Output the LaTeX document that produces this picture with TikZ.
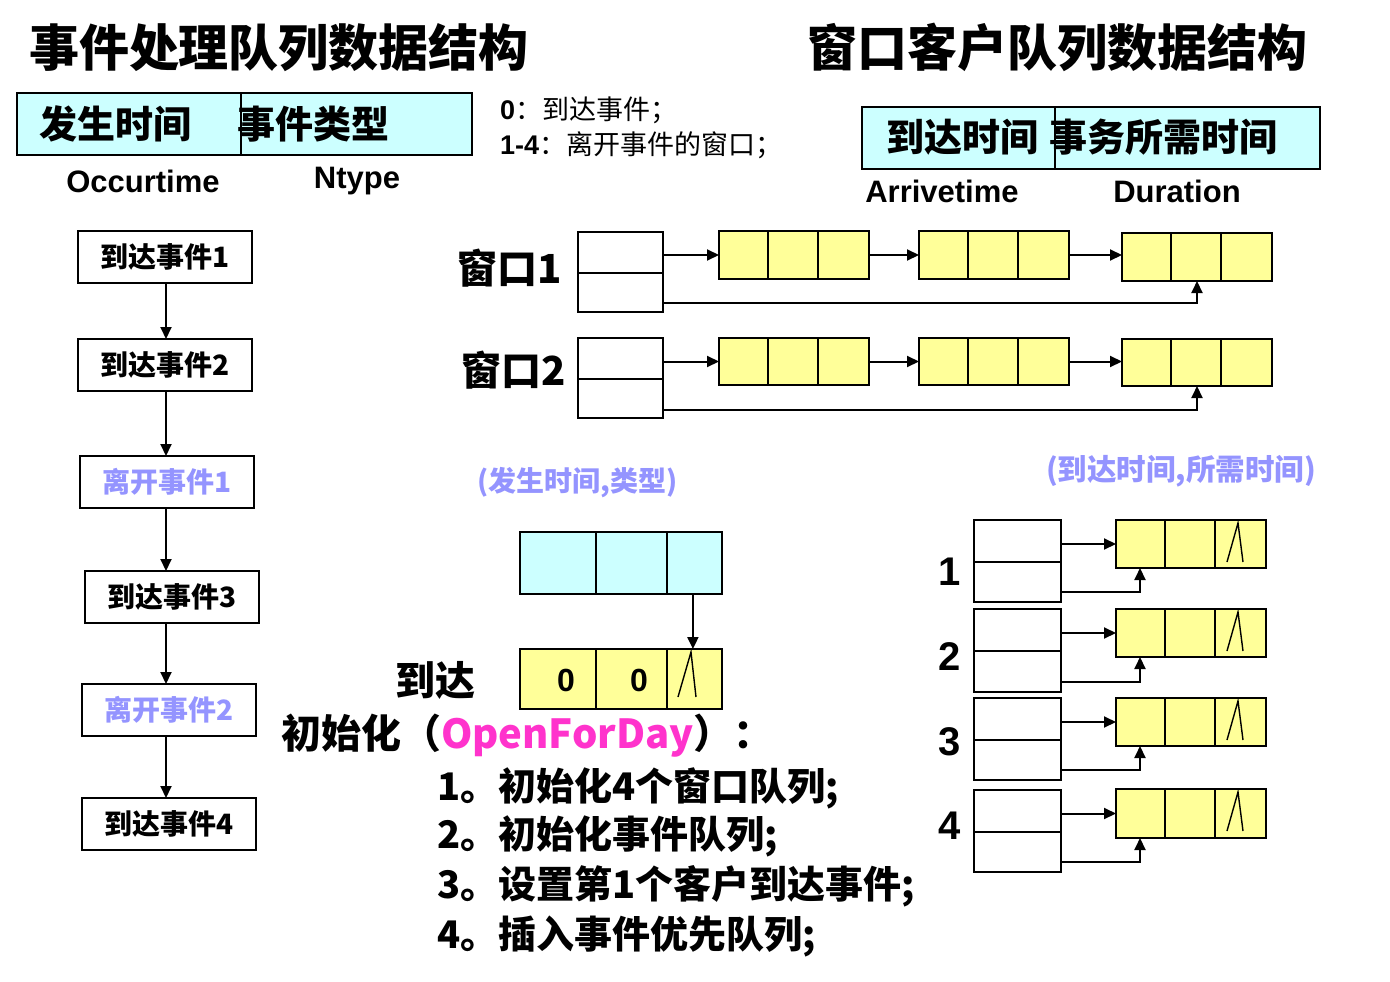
\documentclass[tikz,border=0pt]{standalone}
\usepackage{fontspec}
\setmainfont{Liberation Sans}
\newfontfamily\cjk{Noto Sans CJK SC}
\usetikzlibrary{arrows.meta,calc}
\definecolor{cyanfill}{HTML}{CCFFFF}
\definecolor{yelfill}{HTML}{FFFF99}
\definecolor{lblue}{HTML}{9494FF}
\definecolor{mag}{HTML}{FF33CC}
\newcommand\fsz[1]{\fontsize{#1}{#1}\selectfont}
% style, name, x1, y1, x2, y2, text
\newcommand\cellbox[7]{\node[#1, minimum width={(#5-#3)*1pt}, minimum height={(#6-#4)*1pt}] (#2) at ({(#3+#5)/2},{(#4+#6)/2}) {#7};}
\newcommand\vdiv[2]{\draw[ln] ($(#1.north west)!#2!(#1.north east)$) -- ($(#1.south west)!#2!(#1.south east)$);}
\newcommand\hdiv[2]{\draw[ln] ($(#1.north west)!#2!(#1.south west)$) -- ($(#1.north east)!#2!(#1.south east)$);}
\newcommand\lam[4]{\draw[lamb] ($(#1.north east)+(#2,#4)$) -- ($(#1.north east)+(#3,3)$) -- ($(#1.north east)+(#3+5,#4)$);}
\begin{document}
\begin{tikzpicture}[x=1pt,y=-1pt,
  box/.style={draw, line width=2pt, inner sep=0pt, outer sep=0pt},
  ln/.style={line width=2pt},
  lamb/.style={line width=1.4pt},
  arr/.style={line width=2pt, -{Triangle[length=12pt,width=11pt]}},
  txt/.style={inner sep=0pt, outer sep=0pt, anchor=west},
  ctxt/.style={inner sep=0pt, outer sep=0pt},
  evt/.style={box, font=\cjk\bfseries\fsz{28}},
  cy/.style={box, fill=cyanfill},
  yl/.style={box, fill=yelfill},
  wt/.style={box, fill=white}]
\useasboundingbox (0,0) rectangle (1390,982);
\fill[white] (0,0) rectangle (1390,982);

% titles
\node[txt, font=\cjk\bfseries\fsz{50}] (t1) at (29,48) {事件处理队列数据结构};
\node[txt, font=\cjk\bfseries\fsz{50}] (t2) at (807,47) {窗口客户队列数据结构};

% event node structure
\cellbox{cy}{eb}{17}{93}{472}{155}{}
\vdiv{eb}{0.492}
\node[txt, font=\cjk\bfseries\fsz{38}] (eb1) at (39,124) {发生时间};
\node[txt, font=\cjk\bfseries\fsz{38}] (eb2) at (237,124) {事件类型};
\node[ctxt, font=\bfseries\fsz{31}] (occ) at (143,181) {Occurtime};
\node[ctxt, font=\bfseries\fsz{31}] (nty) at (357,181) {Ntype};

% legend
\node[txt, font=\fsz{27}] (lg1) at (500,110) {\textbf{0}{\cjk ：到达事件；}};
\node[txt, font=\fsz{27}] (lg2) at (500,145) {\textbf{1-4}{\cjk ：离开事件的窗口；}};

% customer node structure
\cellbox{cy}{wb}{862}{107}{1320}{169}{}
\vdiv{wb}{0.421}
\node[txt, font=\cjk\bfseries\fsz{38}] (wb1) at (886,137) {到达时间};
\node[txt, font=\cjk\bfseries\fsz{38}] (wb2) at (1049,137) {事务所需时间};
\node[ctxt, font=\bfseries\fsz{31}] (arv) at (942,191) {Arrivetime};
\node[ctxt, font=\bfseries\fsz{31}] (dur) at (1177,191) {Duration};

% window 1
\node[txt, font=\cjk\bfseries\fsz{40}] (lw1) at (457,268) {窗口1};
\cellbox{wt}{w1}{578}{232}{663}{312}{}
\hdiv{w1}{0.51}
\cellbox{yl}{y1a}{719}{231}{869}{279}{}
\cellbox{yl}{y1b}{919}{231}{1069}{279}{}
\cellbox{yl}{y1c}{1122}{233}{1272}{281}{}
\foreach \n in {y1a,y1b,y1c}{\vdiv{\n}{0.327}\vdiv{\n}{0.66}}
\draw[arr] (y1a.west -| w1.east) -- (y1a.west);
\draw[arr] (y1a.east) -- (y1b.west);
\draw[arr] (y1b.east) -- (y1b.east -| y1c.west);
\coordinate (w1o) at ($(w1.south east)+(0,-9)$);
\draw[arr] (w1o) -| (y1c.south);

% window 2
\node[txt, font=\cjk\bfseries\fsz{40}] (lw2) at (461,370) {窗口2};
\cellbox{wt}{w2}{578}{338}{663}{418}{}
\hdiv{w2}{0.51}
\cellbox{yl}{y2a}{719}{338}{869}{385}{}
\cellbox{yl}{y2b}{919}{338}{1069}{385}{}
\cellbox{yl}{y2c}{1122}{339}{1272}{386}{}
\foreach \n in {y2a,y2b,y2c}{\vdiv{\n}{0.327}\vdiv{\n}{0.66}}
\draw[arr] (y2a.west -| w2.east) -- (y2a.west);
\draw[arr] (y2a.east) -- (y2b.west);
\draw[arr] (y2b.east) -- (y2b.east -| y2c.west);
\coordinate (w2o) at ($(w2.south east)+(0,-8)$);
\draw[arr] (w2o) -| (y2c.south);

% event list
\cellbox{evt}{e1}{78}{231}{252}{283}{到达事件1}
\cellbox{evt}{e2}{78}{339}{252}{391}{到达事件2}
\cellbox{evt,text=lblue}{e3}{80}{456}{254}{508}{离开事件1}
\cellbox{evt}{e4}{85}{571}{259}{623}{到达事件3}
\cellbox{evt,text=lblue}{e5}{82}{684}{256}{736}{离开事件2}
\cellbox{evt}{e6}{82}{798}{256}{850}{到达事件4}
\coordinate (ax) at (166,0);
\draw[arr] (e1.south -| ax) -- (e2.north -| ax);
\draw[arr] (e2.south -| ax) -- (e3.north -| ax);
\draw[arr] (e3.south -| ax) -- (e4.north -| ax);
\draw[arr] (e4.south -| ax) -- (e5.north -| ax);
\draw[arr] (e5.south -| ax) -- (e6.north -| ax);

% middle
\node[txt, font=\cjk\bfseries\fsz{28}, text=lblue] (lbe) at (477,483) {(发生时间,类型)};
\node[txt, font=\cjk\bfseries\fsz{29.5}, text=lblue] (lbc) at (1046,471) {(到达时间,所需时间)};
\cellbox{cy}{mc}{520}{532}{722}{594}{}
\vdiv{mc}{0.376}\vdiv{mc}{0.728}
\cellbox{yl}{my}{520}{649}{722}{709}{}
\vdiv{my}{0.376}\vdiv{my}{0.728}
\draw[arr] ($(mc.south west)!0.856!(mc.south east)$) -- ($(my.north west)!0.856!(my.north east)$);
\node[ctxt, font=\bfseries\fsz{32}] (z1) at (566,680) {0};
\node[ctxt, font=\bfseries\fsz{32}] (z2) at (639,680) {0};
\lam{my}{-44}{-31}{48}
\node[txt, font=\cjk\bfseries\fsz{40}] (arrl) at (395,680) {到达};

% init text
\node[txt, font=\cjk\bfseries\fsz{40}] (init) at (281,736) {初始化（\textcolor{mag}{OpenForDay}）：};
\node[txt, font=\cjk\bfseries\fsz{38}] (s1) at (437,788) {1。初始化4个窗口队列;};
\node[txt, font=\cjk\bfseries\fsz{38}] (s2) at (437,836) {2。初始化事件队列;};
\node[txt, font=\cjk\bfseries\fsz{38}] (s3) at (437,886) {3。设置第1个客户到达事件;};
\node[txt, font=\cjk\bfseries\fsz{38}] (s4) at (437,937) {4。插入事件优先队列;};

% right lower lists
\foreach \i/\ya/\yb/\yc/\yd/\ny in {1/520/602/520/568/572,2/609/692/609/657/657,3/698/780/698/746/742,4/790/872/789/838/826}{
  \node[ctxt, font=\bfseries\fsz{40}] (n\i) at (950,\ny) {\i};
  \cellbox{wt}{rb\i}{974}{\ya}{1061}{\yb}{}
  \hdiv{rb\i}{0.51}
  \cellbox{yl}{ry\i}{1116}{\yc}{1266}{\yd}{}
  \vdiv{ry\i}{0.327}\vdiv{ry\i}{0.66}
  \lam{ry\i}{-39}{-28}{42}
  \draw[arr] (ry\i.west -| rb\i.east) -- (ry\i.west);
  \coordinate (rbo\i) at ($(rb\i.south east)+(0,-10)$);
  \draw[arr] (rbo\i) -| ($(ry\i.south west)+(24,0)$);
}
\end{tikzpicture}
\end{document}
